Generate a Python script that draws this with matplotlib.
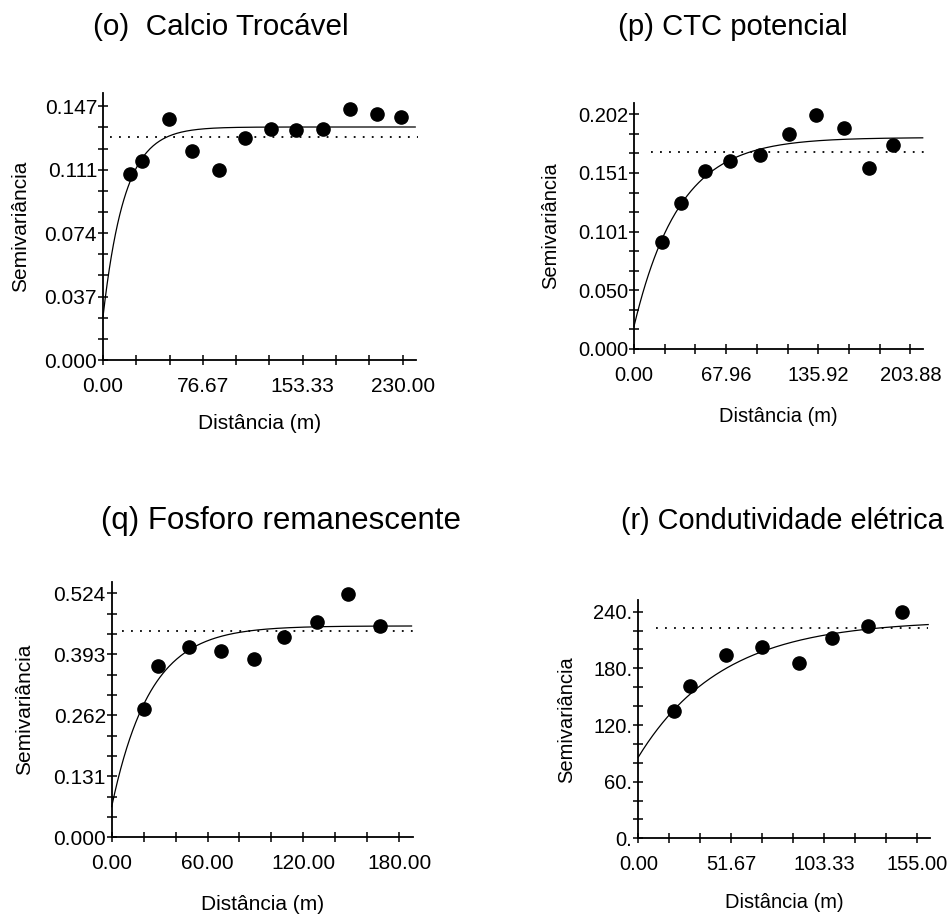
import numpy as np
import matplotlib
matplotlib.use("Agg")
import matplotlib.pyplot as plt

plt.rcParams['font.family'] = ['Liberation Sans', 'DejaVu Sans']

# ---------------- data ----------------
titles = ["(o)  Calcio Trocável", "(p) CTC potencial",
          "(q) Fosforo remanescente", "(r) Condutividade elétrica"]

o_dist = [21.0, 30.0, 50.3, 68.7, 89.2, 109.2, 129.0, 148.0, 168.7, 189.7, 210.3, 229.0]
o_semiv = [0.1075, 0.1154, 0.1397, 0.1211, 0.1103, 0.1289, 0.1339, 0.1331, 0.1339,
           0.1456, 0.1428, 0.1408]
o_model = [0.025, 0.110, 50.0]          # nugget, contribution, range (exponential)
o_variance = 0.1293
o_xticklabels = ["0.00", "76.67", "153.33", "230.00"]
o_yticklabels = ["0.000", "0.037", "0.074", "0.111", "0.147"]

p_dist = [20.7, 34.7, 52.1, 70.6, 93.2, 114.4, 134.5, 154.9, 173.4, 191.1]
p_semiv = [0.0924, 0.1259, 0.1534, 0.1619, 0.1668, 0.1854, 0.2017, 0.1906, 0.1559, 0.1754]
p_model = [0.0195, 0.1625, 100.0]
p_variance = 0.1697
p_xticklabels = ["0.00", "67.96", "135.92", "203.88"]
p_yticklabels = ["0.000", "0.050", "0.101", "0.151", "0.202"]

q_dist = [20.2, 28.8, 48.6, 68.4, 89.3, 108.0, 128.3, 148.1, 167.9]
q_semiv = [0.2756, 0.3687, 0.408, 0.4009, 0.383, 0.4295, 0.4617, 0.5226, 0.4538]
q_model = [0.066, 0.388, 72.0]
q_variance = 0.443
q_xticklabels = ["0.00", "60.00", "120.00", "180.00"]
q_yticklabels = ["0.000", "0.131", "0.262", "0.393", "0.524"]

r_dist = [19.8, 28.5, 48.7, 68.5, 89.3, 107.8, 127.6, 146.7]
r_semiv = [134.8, 161.3, 194.1, 202.3, 186.0, 211.8, 225.2, 240.0]
r_model = [86.0, 145.0, 140.0]
r_variance = 222.4
r_xticklabels = ["0.00", "51.67", "103.33", "155.00"]
r_yticklabels = ["0.", "60.", "120.", "180.", "240."]

# ---------------- layout ----------------
W, H = 950, 916
panels = [
    dict(dist=o_dist, semiv=o_semiv, model=o_model, var=o_variance,
         xtl=o_xticklabels, ytl=o_yticklabels, xmax_t=230.0, ymax_t=0.147,
         xlim=240.3, ylim=0.1547, curve_end=239.7, dot=(5.0, 242.0),
         box=(103, 360, 416, 93), ylab=(-0.234, 0.5), xlab=(0.5, -0.202),
         title_xy=(93, 27), tfs=21.3, fs=15),
    dict(dist=p_dist, semiv=p_semiv, model=p_model, var=p_variance,
         xtl=p_xticklabels, ytl=p_yticklabels, xmax_t=203.88, ymax_t=0.202,
         xlim=213.2, ylim=0.2117, curve_end=213.0, dot=(12.8, 214.5),
         box=(634, 349, 923, 103), ylab=(-0.256, 0.5), xlab=(0.5, -0.236),
         title_xy=(618, 27), tfs=21.1, fs=14.5),
    dict(dist=q_dist, semiv=q_semiv, model=q_model, var=q_variance,
         xtl=q_xticklabels, ytl=q_yticklabels, xmax_t=180.0, ymax_t=0.524,
         xlim=188.8, ylim=0.549, curve_end=187.7, dot=(6.3, 188.8),
         box=(111.7, 837.3, 413.3, 581.7), ylab=(-0.258, 0.5), xlab=(0.5, -0.226),
         title_xy=(101, 521), tfs=22.5, fs=15),
    dict(dist=r_dist, semiv=r_semiv, model=r_model, var=r_variance,
         xtl=r_xticklabels, ytl=r_yticklabels, xmax_t=155.0, ymax_t=240.0,
         xlim=162.0, ylim=252.4, curve_end=161.0, dot=(9.8, 161.0),
         box=(638.3, 838.3, 930, 600), ylab=(-0.214, 0.5), xlab=(0.5, -0.228),
         title_xy=(621, 521), tfs=20.8, fs=14.5),
]

fig = plt.figure(figsize=(W / 100, H / 100), dpi=100)
fig.patch.set_facecolor("white")

for i, pnl in enumerate(panels):
    l, b, r, t = pnl["box"]
    ax = fig.add_axes([l / W, (H - b) / H, (r - l) / W, (b - t) / H])
    ax.set_xlim(0, pnl["xlim"])
    ax.set_ylim(0, pnl["ylim"])
    for s in ("top", "right"):
        ax.spines[s].set_visible(False)
    for s in ("left", "bottom"):
        ax.spines[s].set_linewidth(1.3)

    # exponential model curve
    c0, c, a = pnl["model"]
    h = np.linspace(0, pnl["curve_end"], 300)
    g = c0 + c * (1 - np.exp(-3 * h / a))
    ax.plot(h, g, color="black", lw=0.9, clip_on=False, zorder=3)

    # sample variance (dotted)
    ax.plot(list(pnl["dot"]), [pnl["var"], pnl["var"]], color="black", lw=1.3,
            linestyle=(0, (1, 4)), clip_on=False, zorder=2)

    # experimental semivariogram points
    ax.plot(pnl["dist"], pnl["semiv"], "o", color="black", ms=9.5,
            clip_on=False, zorder=4)

    # ticks
    xt = np.linspace(0, pnl["xmax_t"], 10)
    yt = np.linspace(0, pnl["ymax_t"], 13)
    ax.set_xticks(xt)
    ax.set_yticks(yt)
    xl = ["" for _ in xt]
    for k, lab in enumerate(pnl["xtl"]):
        xl[3 * k] = lab
    yl = ["" for _ in yt]
    for k, lab in enumerate(pnl["ytl"]):
        yl[3 * k] = lab
    ax.set_xticklabels(xl)
    ax.set_yticklabels(yl)
    ax.tick_params(axis="both", direction="inout", length=6.5, width=1.1,
                   labelsize=pnl["fs"], colors="black")
    ax.tick_params(axis="x", pad=9)
    ax.tick_params(axis="y", pad=1)

    ax.set_xlabel("Distância (m)", fontsize=pnl["fs"])
    ax.set_ylabel("Semivariância", fontsize=pnl["fs"])
    ax.xaxis.set_label_coords(*pnl["xlab"])
    ax.yaxis.set_label_coords(*pnl["ylab"])

    tx, ty = pnl["title_xy"]
    fig.text(tx / W, 1 - ty / H, titles[i], fontsize=pnl["tfs"], ha="left", va="center")

fig.savefig("out.png", dpi=100, facecolor="white")
